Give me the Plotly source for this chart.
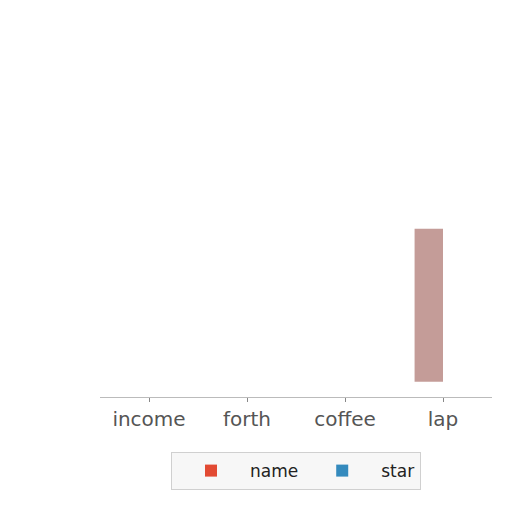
import plotly.graph_objects as go

categories = ["income", "forth", "coffee", "lap"]
name_values = [0, 0, 0, 100]
star_values = [0, 0, 0, 0]

name_colors = ["#E24A33", "#E24A33", "#E24A33", "#C49C98"]
star_color = "#348ABD"

fig = go.Figure()
fig.add_trace(go.Bar(
    x=categories, y=name_values, name="name",
    marker=dict(color=name_colors, line=dict(width=0)),
))
fig.add_trace(go.Bar(
    x=categories, y=star_values, name="star",
    marker=dict(color=star_color, line=dict(width=0)),
))

fig.update_layout(
    width=512, height=512,
    margin=dict(l=92, r=28, t=22, b=123),
    paper_bgcolor="white", plot_bgcolor="white",
    barmode="group", bargap=0.42, bargroupgap=0,
    font=dict(family="DejaVu Sans", color="#222222"),
    showlegend=True,
    legend=dict(
        orientation="h", x=0.5, xanchor="center", y=-0.15, yanchor="top",
        bgcolor="#f7f7f7", bordercolor="#d0d0d0", borderwidth=1,
        font=dict(size=17, color="#222222"),
        itemwidth=68,
    ),
)
fig.update_xaxes(
    showgrid=False, showline=True, linecolor="#bbbbbb", linewidth=1,
    ticks="outside", ticklen=4, tickcolor="#888888",
    tickfont=dict(size=20, color="#555555"),
)
fig.update_yaxes(
    range=[-10, 230], visible=False, showgrid=False, zeroline=False,
)

fig.write_html("out.html")
